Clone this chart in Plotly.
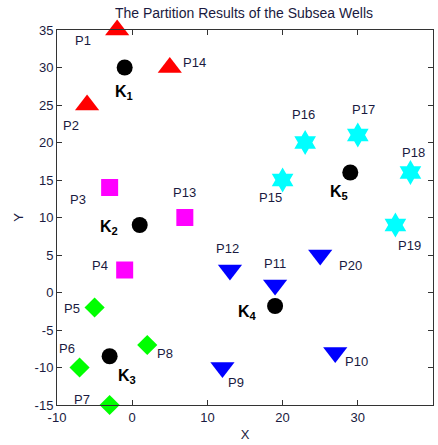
import plotly.graph_objects as go

# ---- data ----
g1_names = ["P1", "P2", "P14"]
g1_x = [-2, -6, 5]
g1_y = [35, 25, 30]

g2_names = ["P3", "P4", "P13"]
g2_x = [-3, -1, 7]
g2_y = [14, 3, 10]

g3_names = ["P5", "P6", "P7", "P8"]
g3_x = [-5, -7, -3, 2]
g3_y = [-2, -10, -15, -7]

g4_names = ["P9", "P10", "P11", "P12", "P20"]
g4_x = [12, 27, 19, 13, 25]
g4_y = [-10, -8, 1, 3, 5]

g5_names = ["P15", "P16", "P17", "P18", "P19"]
g5_x = [20, 23, 30, 37, 35]
g5_y = [15, 20, 21, 16, 9]

k_names = ["1", "2", "3", "4", "5"]
k_x = [-1, 1, -3, 19, 29]
k_y = [30, 9, -8.5, -1.8, 16]

x_ticks = [-10, 0, 10, 20, 30, 40]
y_ticks = [-15, -10, -5, 0, 5, 10, 15, 20, 25, 30, 35]

# ---- label offsets (pixels) ----
label_shift = {
    "P1": (-34, -10), "P2": (-16, -20), "P14": (25, 5),
    "P3": (-32, -12), "P4": (-25, 5), "P13": (0, 25),
    "P5": (-23, -1), "P6": (-13, 19), "P7": (-28, 6), "P8": (18, -8),
    "P9": (14, -15), "P10": (21, -9), "P11": (0, 22), "P12": (-2, 22), "P20": (30, -10),
    "P15": (-12, -17), "P16": (-2, 28), "P17": (6, 26), "P18": (3, 20), "P19": (14, -20),
}
k_shift = [(-1, -25), (-31, -2), (17, -20), (-28, -6), (-11, -20)]

TEXT = "#1a1a40"
FONT = "Arial, Liberation Sans"
fig = go.Figure()

groups = [
    (g1_names, g1_x, g1_y, "triangle-up", "#ff0000", 21),
    (g2_names, g2_x, g2_y, "square", "#ff00ff", 17),
    (g3_names, g3_x, g3_y, "diamond", "#00ff00", 15.5),
    (g4_names, g4_x, g4_y, "triangle-down", "#0000ff", 21),
    (g5_names, g5_x, g5_y, "hexagram", "#00ffff", 19),
]
for names, xs, ys, sym, col, sz in groups:
    fig.add_trace(go.Scatter(
        x=xs, y=ys, mode="markers", cliponaxis=False, showlegend=False,
        marker=dict(symbol=sym, color=col, size=sz, line=dict(width=0)),
    ))
    for n, x, y in zip(names, xs, ys):
        dx, dy = label_shift[n]
        fig.add_annotation(x=x, y=y, xref="x", yref="y", text=n, showarrow=False,
                           xshift=dx, yshift=dy,
                           font=dict(family=FONT, size=13, color=TEXT))

fig.add_trace(go.Scatter(
    x=k_x, y=k_y, mode="markers", cliponaxis=False, showlegend=False,
    marker=dict(symbol="circle", color="black", size=16, line=dict(width=0)),
))
for n, x, y, (dx, dy) in zip(k_names, k_x, k_y, k_shift):
    fig.add_annotation(x=x, y=y, xref="x", yref="y", text="<b>K<sub>" + n + "</sub></b>",
                       showarrow=False, xshift=dx, yshift=dy,
                       font=dict(family=FONT, size=16, color="black"))

axis_common = dict(
    showgrid=False, zeroline=False, showline=True, linecolor="#333333", linewidth=1,
    mirror="ticks", ticks="inside", ticklen=5, tickcolor="#333333", automargin=False,
    tickfont=dict(family=FONT, size=13, color=TEXT),
)
fig.update_xaxes(range=[-10, 40], tickvals=x_ticks, ticktext=[str(v) for v in x_ticks],
                 **axis_common,
                 title=dict(text="X", font=dict(family=FONT, size=13, color=TEXT), standoff=6))
fig.update_yaxes(range=[-15, 35], tickvals=y_ticks, ticktext=[str(v) for v in y_ticks],
                 **axis_common,
                 title=dict(text="Y", font=dict(family=FONT, size=13, color=TEXT), standoff=8))

fig.update_layout(
    width=438, height=445,
    margin=dict(l=57, r=5, t=30, b=40),
    paper_bgcolor="white", plot_bgcolor="white",
    hovermode=False,
    title=dict(text="The Partition Results of the Subsea Wells", x=0.557, xanchor="center",
               y=0.971, yanchor="middle",
               font=dict(family=FONT, size=14, color=TEXT)),
)

# remove the page's default body margin so the figure sits at the window's corner
fig.write_html("out.html", config={"displayModeBar": False, "staticPlot": True},
               post_script="document.body.style.margin='0';document.body.style.overflow='hidden';")
